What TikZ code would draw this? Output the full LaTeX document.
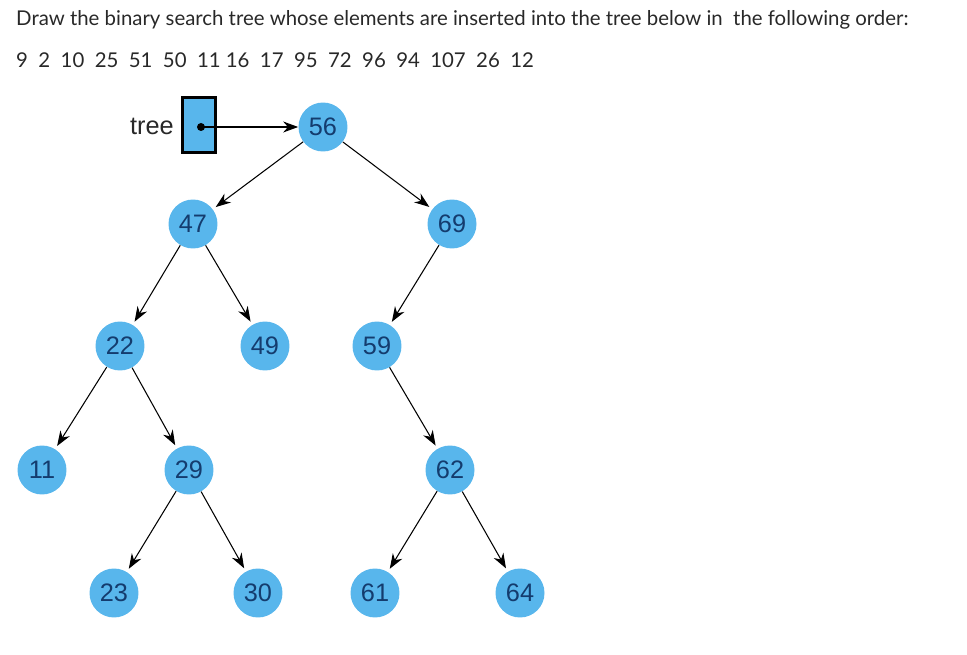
\documentclass[tikz,border=0pt]{standalone}
\usepackage{fontspec}
\setmainfont{Lato}
\setsansfont{Liberation Sans}
\usetikzlibrary{arrows.meta}
\definecolor{nodeblue}{RGB}{88,182,236}
\definecolor{textdark}{RGB}{40,40,40}
\definecolor{textblue}{RGB}{20,60,110}
\tikzset{
  key/.style={circle, fill=nodeblue, minimum size=0.98cm, inner sep=0pt,
    font=\sffamily\Large, text=textblue},
  link/.style={-{Stealth[length=3mm,width=2.2mm]}, line width=0.6pt}
}
\begin{document}
\begin{tikzpicture}[x=0.02cm,y=-0.02cm]
\useasboundingbox (0,0) rectangle (967,655);
% question
\node[anchor=west, font=\fontsize{11.6}{14}\selectfont, text=textdark] (q1) at (10,20)
  {Draw the binary search tree whose elements are inserted into the tree below in\ \ the following order:};
\node[anchor=west, font=\fontsize{11.6}{14}\selectfont, text=textdark] (q2) at (10,60)
  {9\ \ 2\ \ 10\ \ 25\ \ 51\ \ 50\ \ 11 16\ \ 17\ \ 95\ \ 72\ \ 96\ \ 94\ \ 107\ \ 26\ \ 12};
% pointer box
\node[font=\sffamily\Large, text=textdark] (tree) at (152,126) {tree};
\node[draw, line width=1.5pt, fill=nodeblue, minimum width=0.66cm, minimum height=1.1cm, inner sep=0pt] (box) at (199,125) {};
\coordinate (dot) at (201,127);
\fill (dot) circle[radius=4];
% keys
\node[key] (k56) at (323,127) {56};
\node[key] (k47) at (193,224) {47};
\node[key] (k69) at (452,224) {69};
\node[key] (k22) at (120,346) {22};
\node[key] (k49) at (265,346) {49};
\node[key] (k59) at (377,346) {59};
\node[key] (k11) at (42,470) {11};
\node[key] (k29) at (189,470) {29};
\node[key] (k62) at (450,470) {62};
\node[key] (k23) at (114,593) {23};
\node[key] (k30) at (258,593) {30};
\node[key] (k61) at (375,593) {61};
\node[key] (k64) at (520,593) {64};
% links
\draw[link] (dot) -- (k56);
\foreach \a/\b in {56/47,56/69,47/22,47/49,69/59,22/11,22/29,59/62,29/23,29/30,62/61,62/64}
  \draw[link, shorten >=2pt] (k\a) -- (k\b);
\end{tikzpicture}
\end{document}
